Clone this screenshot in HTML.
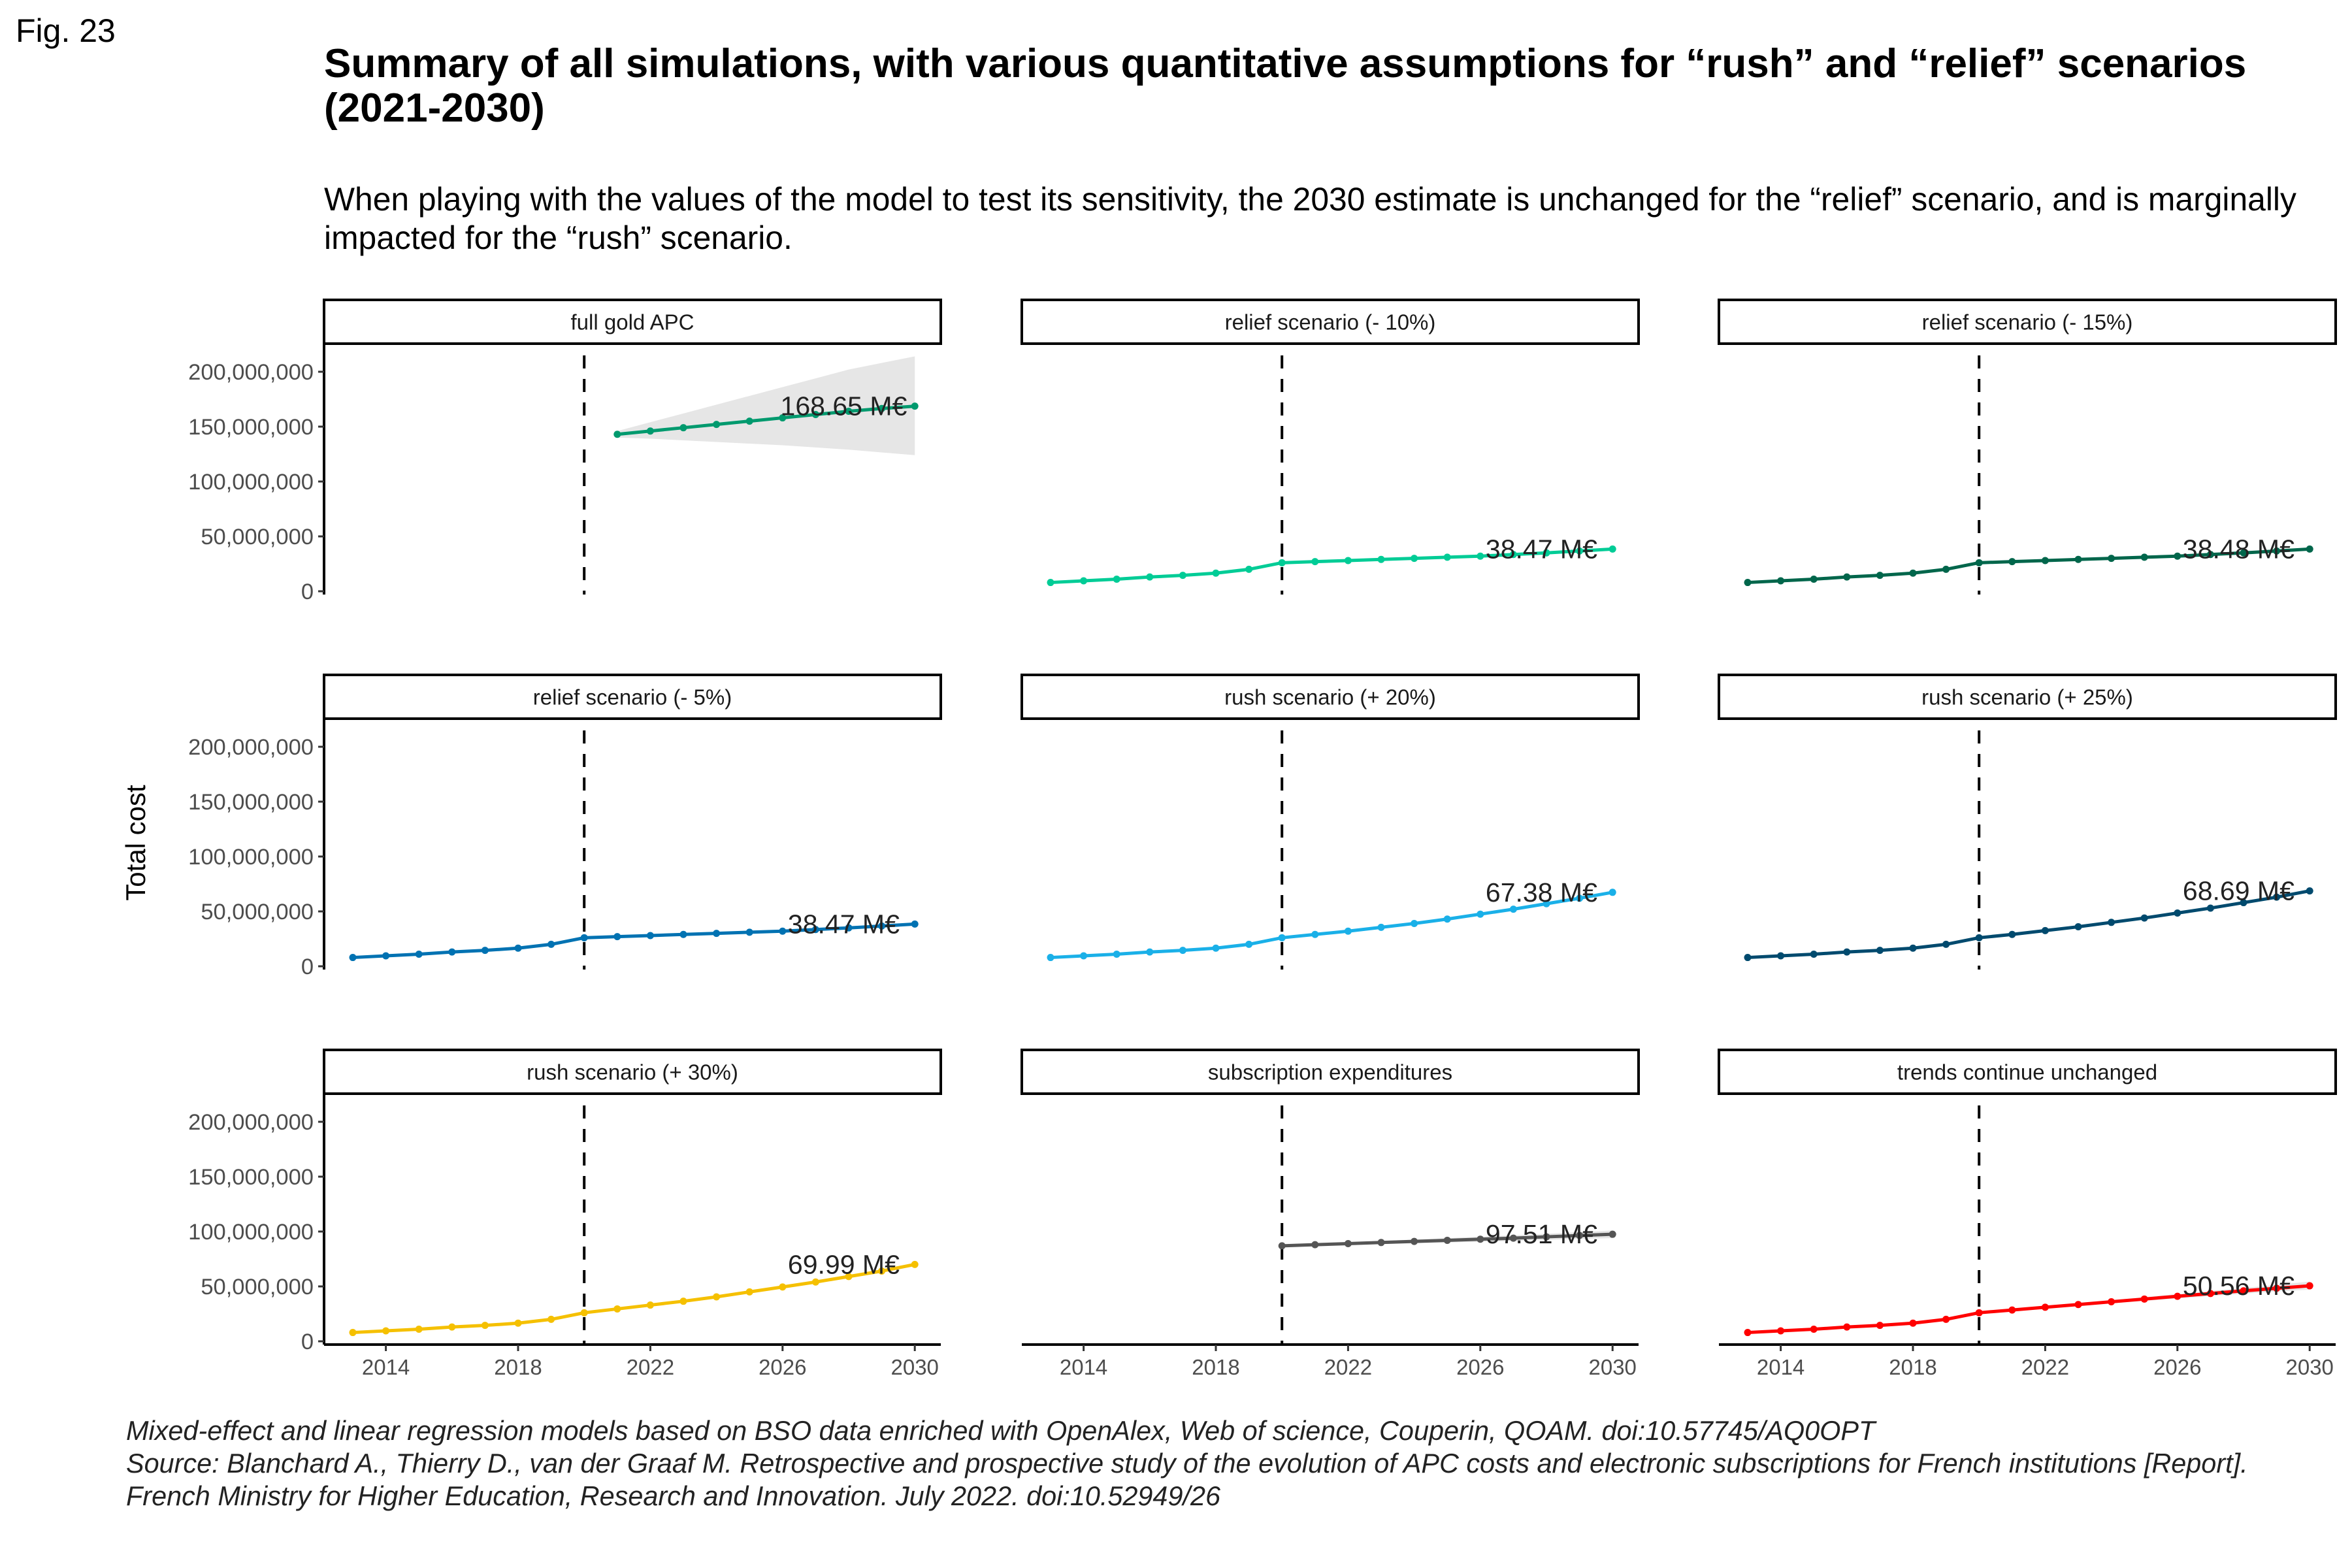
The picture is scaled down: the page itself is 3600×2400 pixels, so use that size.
<!DOCTYPE html>
<html><head><meta charset="utf-8">
<style>
html,body{margin:0;padding:0;background:#fff;}
body{width:3600px;height:2400px;overflow:hidden;position:relative;font-family:"Liberation Sans",Arial,sans-serif;}
svg{position:absolute;left:0;top:0;}
</style></head>
<body>
<svg id="chart" width="3600" height="2400" viewBox="0 0 3600 2400" xmlns="http://www.w3.org/2000/svg" font-family="Liberation Sans, Arial, sans-serif">
  <text x="24" y="64" font-size="50" fill="#000">Fig. 23</text>
  <text x="496" y="118" font-size="62" font-weight="bold" fill="#000">Summary of all simulations, with various quantitative assumptions for “rush” and “relief” scenarios</text>
  <text x="496" y="186" font-size="62" font-weight="bold" fill="#000">(2021-2030)</text>
  <text x="496" y="322" font-size="49.8" fill="#000">When playing with the values of the model to test its sensitivity, the 2030 estimate is unchanged for the “relief” scenario, and is marginally</text>
  <text x="496" y="381" font-size="49.8" fill="#000">impacted for the “rush” scenario.</text>
  <text transform="translate(222,1290) rotate(-90)" text-anchor="middle" font-size="42" fill="#000">Total cost</text>
  <g font-size="41.4" font-style="italic" fill="#222">
    <text x="193" y="2204">Mixed-effect and linear regression models based on BSO data enriched with OpenAlex, Web of science, Couperin, QOAM. doi:10.57745/AQ0OPT</text>
    <text x="193" y="2254">Source: Blanchard A., Thierry D., van der Graaf M. Retrospective and prospective study of the evolution of APC costs and electronic subscriptions for French institutions [Report].</text>
    <text x="193" y="2304">French Ministry for Higher Education, Research and Innovation. July 2022. doi:10.52949/26</text>
  </g>
  <g id="panels"></g>
</svg>
<script>
// ---- data ----
const panelTitles = ["full gold APC","relief scenario (- 10%)","relief scenario (- 15%)","relief scenario (- 5%)","rush scenario (+ 20%)","rush scenario (+ 25%)","rush scenario (+ 30%)","subscription expenditures","trends continue unchanged"];
const panelColors = ["#009a6e","#00cc96","#00664b","#0072b2","#1ab0e8","#004a6e","#f5c000","#555555","#ff0000"];
const yearsFull = [2013,2014,2015,2016,2017,2018,2019,2020,2021,2022,2023,2024,2025,2026,2027,2028,2029,2030];
const yearsGold = [2021,2022,2023,2024,2025,2026,2027,2028,2029,2030];
const yearsSub = [2020,2021,2022,2023,2024,2025,2026,2027,2028,2029,2030];
const goldValues = [143,146,149,152,155,158,161,164,166.5,168.65];
const goldUpper = [146,154,162,170,178,186,194,202,208,214];
const goldLower = [140,139,137.5,136,134.5,133,131,129,126.5,124];
const relief10 = [8,9.5,11,13,14.5,16.5,20,26,27,28,29,30,31,32,33.5,35,36.7,38.47];
const relief15 = [8,9.5,11,13,14.5,16.5,20,26,27,28,29,30,31,32,33.5,35,36.7,38.48];
const relief5 = [8,9.5,11,13,14.5,16.5,20,26,27,28,29,30,31,32,33.5,35,36.7,38.47];
const rush20 = [8,9.5,11,13,14.5,16.5,20,26,29,32,35.5,39,43,47.5,52,57,62,67.38];
const rush25 = [8,9.5,11,13,14.5,16.5,20,26,29,32.5,36,40,44,48.5,53,58,63,68.69];
const rush30 = [8,9.5,11,13,14.5,16.5,20,26,29.5,33,36.5,40.5,45,49.5,54,59,64,69.99];
const subValues = [87,88,89,90,91,92,93,94,95.2,96.4,97.51];
const subUpper = [87.5,88.8,90,91.4,92.7,94,95.3,96.6,98,99.5,101];
const subLower = [86.5,87.2,88,88.6,89.3,90,90.7,91.4,92.4,93.3,94];
const trendValues = [8,9.5,11,13,14.5,16.5,20,26,28.5,31,33.5,36,38.5,41,43.5,46,48.3,50.56];
const trendUpper = [8,9.5,11,13,14.5,16.5,20,26,29,31.8,34.6,37.4,40.2,43,45.8,48.6,51.4,54.5];
const trendLower = [8,9.5,11,13,14.5,16.5,20,26,28,30.2,32.4,34.6,36.8,39,41.2,43.4,45.4,47];
const labelTexts = ["168.65 M€","38.47 M€","38.48 M€","38.47 M€","67.38 M€","68.69 M€","69.99 M€","97.51 M€","50.56 M€"];
const yTicks = [0,50,100,150,200];
const yTickLabels = ["0","50,000,000","100,000,000","150,000,000","200,000,000"];
const xTicks = [2014,2018,2022,2026,2030];

const series = [
  {x:yearsGold,y:goldValues,up:goldUpper,lo:goldLower},
  {x:yearsFull,y:relief10},{x:yearsFull,y:relief15},{x:yearsFull,y:relief5},
  {x:yearsFull,y:rush20},{x:yearsFull,y:rush25},{x:yearsFull,y:rush30},
  {x:yearsSub,y:subValues,up:subUpper,lo:subLower},
  {x:yearsFull,y:trendValues,up:trendUpper,lo:trendLower}
];

const NS="http://www.w3.org/2000/svg";
const root=document.getElementById('panels');
function mk(tag,attrs,parent){const e=document.createElementNS(NS,tag);for(const k in attrs)e.setAttribute(k,attrs[k]);(parent||root).appendChild(e);return e;}

const colLeft=[496,1564,2631], colW=944;
const rowStrip=[459,1033,1607], rowZero=[905,1479,2053];
const stripH=67, yPx200=336, panelBottomOff=5;

panelTitles.forEach((t,i)=>{
  const c=i%3, r=Math.floor(i/3);
  const L=colLeft[c], R=L+colW, y0=rowZero[r], sTop=rowStrip[r];
  const X=yr=>L+44+(yr-2013)*50.6;
  const Y=v=>y0 - v/200*yPx200;
  const g=mk('g',{});
  
  
  const strip=mk('rect',{x:L,y:sTop,width:colW,height:stripH,fill:'#fff',stroke:'#000','stroke-width':4},g);
  
  
  const st=mk('text',{x:L+colW/2,y:sTop+stripH/2+12,'text-anchor':'middle','font-size':33,fill:'#1a1a1a'},g);
  st.textContent=t;
  
  
  const bottom=y0+panelBottomOff;
  const dl=mk('line',{x1:X(2020),x2:X(2020),y1:sTop+stripH+18,y2:bottom,stroke:'#000','stroke-width':4,'stroke-dasharray':'20 16'},g);
  
  
  const s=series[i];
  if(s.up){
    let d='';
    s.x.forEach((yr,k)=>{d+=(k?'L':'M')+X(yr)+','+Y(s.up[k]);});
    for(let k=s.x.length-1;k>=0;k--){d+='L'+X(s.x[k])+','+Y(s.lo[k]);}
    const rb=mk('path',{d:d+'Z',fill:'#e6e6e6'},g);
    
    
  }
  const pts=s.x.map((yr,k)=>X(yr)+','+Y(s.y[k])).join(' ');
  const pl=mk('polyline',{points:pts,fill:'none',stroke:panelColors[i],'stroke-width':5,'stroke-linejoin':'round'},g);
  
  
  s.x.forEach((yr,k)=>{
    const p=mk('circle',{cx:X(yr),cy:Y(s.y[k]),r:5.5,fill:panelColors[i]},g);
    
    
  });
  const last=s.y[s.y.length-1];
  const lb=mk('text',{x:X(2027.85),y:Y(last)+14,'text-anchor':'middle','font-size':41,fill:'#222'},g);
  lb.textContent=labelTexts[i];
  
  
  if(c===0){
    const ax=mk('line',{x1:L,x2:L,y1:sTop+stripH,y2:bottom,stroke:'#000','stroke-width':4},g);
    
    
    yTicks.forEach((v,k)=>{
      const tk=mk('line',{x1:L-9,x2:L,y1:Y(v),y2:Y(v),stroke:'#333','stroke-width':3},g);
      
      
      const tl=mk('text',{x:L-16,y:Y(v)+12,'text-anchor':'end','font-size':34.5,fill:'#4d4d4d'},g);
      tl.textContent=yTickLabels[k];
      
      
    });
  }
  if(r===2){
    const ax=mk('line',{x1:L,x2:R,y1:bottom,y2:bottom,stroke:'#000','stroke-width':4},g);
    
    
    xTicks.forEach(yr=>{
      const tk=mk('line',{x1:X(yr),x2:X(yr),y1:bottom,y2:bottom+10,stroke:'#333','stroke-width':3},g);
      
      
      const tl=mk('text',{x:X(yr),y:bottom+46,'text-anchor':'middle','font-size':33,fill:'#4d4d4d'},g);
      tl.textContent=String(yr);
      
      
    });
  }
});
</script>
</body></html>
